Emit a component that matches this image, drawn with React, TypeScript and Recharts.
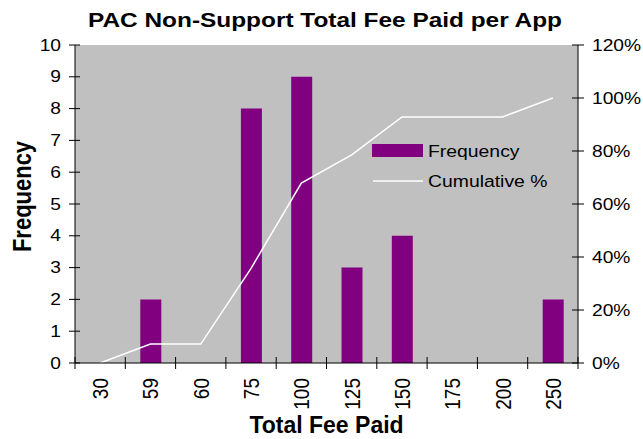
import { ComposedChart, Bar, Line, XAxis, YAxis, CartesianGrid, Legend } from 'recharts';

const fees = ['30', '59', '60', '75', '100', '125', '150', '175', '200', '250'];
const frequency = [0, 2, 0, 8, 9, 3, 4, 0, 0, 2];
const cumulative = [0, 7.14, 7.14, 35.71, 67.86, 78.57, 92.86, 92.86, 92.86, 100];
const freqTicks = [0, 1, 2, 3, 4, 5, 6, 7, 8, 9, 10];
const pctTicks = [0, 20, 40, 60, 80, 100, 120];

const data = fees.map((fee, i) => ({ fee, freq: frequency[i], cum: cumulative[i] }));

const W = 643;
const H = 439;
const LEFT = 75;
const RIGHT = 578;
const TOP = 45;
const BOTTOM = 363;
const band = (RIGHT - LEFT) / fees.length;
const font = '"Liberation Sans", Arial, sans-serif';

function LeftTick({ y, payload }: any) {
  return (
    <g>
      <line x1={69} x2={80} y1={y} y2={y} stroke="#000" />
      <text transform={`translate(61,${y}) scale(1.2,1)`} textAnchor="end" dy="0.35em" fontSize={16} fontFamily={font} fill="#000">
        {payload.value}
      </text>
    </g>
  );
}

function RightTick({ y, payload }: any) {
  return (
    <g>
      <line x1={572} x2={584} y1={y} y2={y} stroke="#000" />
      <text transform={`translate(592,${y}) scale(1.2,1)`} textAnchor="start" dy="0.35em" fontSize={16} fontFamily={font} fill="#000">
        {payload.value}%
      </text>
    </g>
  );
}

function BottomTick({ x, payload, index }: any) {
  return (
    <g>
      <line x1={x - band / 2} x2={x - band / 2} y1={357} y2={369} stroke="#000" />
      {index === fees.length - 1 && (
        <line x1={x + band / 2} x2={x + band / 2} y1={357} y2={369} stroke="#000" />
      )}
      <text
        transform={`translate(${x},378) rotate(-90) scale(1,1.15)`}
        textAnchor="end"
        dominantBaseline="central"
        fontSize={19}
        fontFamily={font}
        fill="#000"
      >
        {payload.value}
      </text>
    </g>
  );
}

function LegendBox() {
  return (
    <svg width={200} height={56} style={{ display: 'block' }}>
      <rect x={0} y={4} width={51} height={13} fill="#800080" />
      <text transform="translate(56,11) scale(1.14,1)" dy="0.35em" fontSize={17} fontFamily={font} fill="#000">
        Frequency
      </text>
      <line x1={1} x2={51} y1={41} y2={41} stroke="#fff" strokeWidth={1.5} />
      <text transform="translate(56,41) scale(1.14,1)" dy="0.35em" fontSize={17} fontFamily={font} fill="#000">
        Cumulative %
      </text>
    </svg>
  );
}

export default function App() {
  return (
    <div style={{ position: 'absolute', left: 0, top: 0, width: W, height: H, background: '#fff' }}>
      <ComposedChart
        width={W}
        height={H}
        data={data}
        margin={{ top: TOP, right: 0, bottom: 0, left: 0 }}
        barCategoryGap={0}
      >
        <CartesianGrid fill="#C0C0C0" stroke="none" horizontal={false} vertical={false} />
        <XAxis
          dataKey="fee"
          height={H - BOTTOM}
          axisLine={{ stroke: '#000' }}
          tickLine={false}
          tick={<BottomTick />}
          interval={0}
        />
        <YAxis
          width={LEFT}
          domain={[0, 10]}
          ticks={freqTicks}
          interval={0}
          axisLine={{ stroke: '#000' }}
          tickLine={false}
          tick={<LeftTick />}
        />
        <YAxis
          yAxisId="right"
          orientation="right"
          width={W - RIGHT}
          domain={[0, 120]}
          ticks={pctTicks}
          interval={0}
          axisLine={{ stroke: '#000' }}
          tickLine={false}
          tick={<RightTick />}
        />
        <Legend
          layout="vertical"
          align="center"
          verticalAlign="middle"
          content={<LegendBox />}
          wrapperStyle={{ left: 372, top: 140, width: 200, height: 56 }}
        />
        <Bar dataKey="freq" name="Frequency" fill="#800080" barSize={21} isAnimationActive={false} />
        <Line
          yAxisId="right"
          type="linear"
          dataKey="cum"
          name="Cumulative %"
          stroke="#fff"
          strokeWidth={1.5}
          dot={false}
          activeDot={false}
          isAnimationActive={false}
        />
      </ComposedChart>
      <svg width={W} height={H} style={{ position: 'absolute', left: 0, top: 0, pointerEvents: 'none' }}>
        <text x={325} y={26.5} textAnchor="middle" fontWeight="bold" fontSize={20.5} fontFamily={font} textLength={474} lengthAdjust="spacingAndGlyphs">
          PAC Non-Support Total Fee Paid per App
        </text>
        <text x={326.5} y={433} textAnchor="middle" fontWeight="bold" fontSize={23} fontFamily={font}>
          Total Fee Paid
        </text>
        <text
          transform="translate(31,196.5) rotate(-90) scale(1,1.2)"
          textAnchor="middle"
          fontWeight="bold"
          fontSize={22}
          fontFamily={font}
        >
          Frequency
        </text>
      </svg>
    </div>
  );
}
